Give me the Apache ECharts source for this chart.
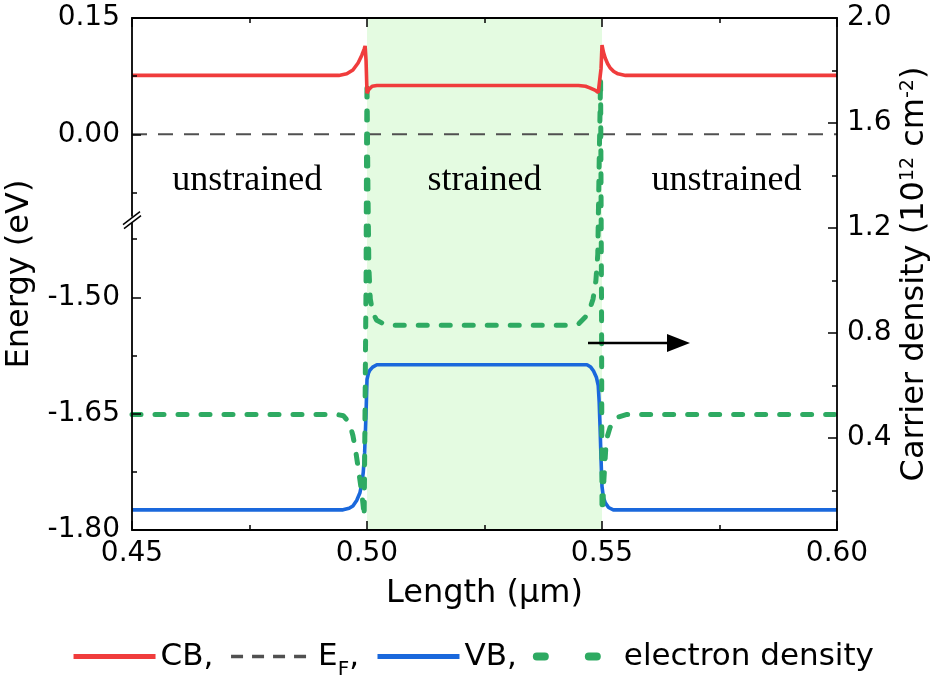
<!DOCTYPE html>
<html>
<head>
<meta charset="utf-8">
<script src="https://cdn.jsdelivr.net/npm/echarts@6.0.0/dist/echarts.min.js"></script>
<style>
  html, body { margin: 0; padding: 0; background: #fff; }
  #chart { width: 945px; height: 677px; }
</style>
</head>
<body>
<div id="chart"></div>
<script>
// values (x in um)
var cbX = [0.45, 0.494, 0.4957, 0.4970, 0.4981, 0.4989, 0.4994, 0.4996, 0.4998, 0.5000,
  0.5004, 0.5011, 0.5021, 0.5450, 0.5465, 0.5474, 0.5485, 0.5492, 0.5496, 0.5498,
  0.5500, 0.5503, 0.5507, 0.5512, 0.5517, 0.5525, 0.5534, 0.5550, 0.60];
var cbY = [0.076, 0.076, 0.078, 0.083, 0.092, 0.102, 0.110, 0.114, 0.095, 0.053,
  0.058, 0.062, 0.063, 0.063, 0.062, 0.060, 0.057, 0.054, 0.054, 0.085,
  0.115, 0.106, 0.098, 0.091, 0.086, 0.081, 0.078, 0.076, 0.076];

var vbX = [0.45, 0.4949, 0.4962, 0.4970, 0.4978, 0.4985, 0.4989, 0.4992, 0.4995, 0.4998,
  0.5000, 0.5003, 0.5006, 0.5012, 0.5021, 0.5468, 0.5476, 0.5482, 0.5488, 0.5492,
  0.5494, 0.5496, 0.5498, 0.5500, 0.5503, 0.5507, 0.5514, 0.5524, 0.60];
var vbY = [-1.774, -1.774, -1.772, -1.769, -1.762, -1.752, -1.740, -1.726, -1.700, -1.649,
  -1.606, -1.598, -1.594, -1.590, -1.587, -1.587, -1.590, -1.595, -1.603, -1.614,
  -1.635, -1.670, -1.710, -1.744, -1.758, -1.765, -1.771, -1.774, -1.774];

var efX = [0.45, 0.60];
var efY = [0, 0];

var nX = [0.45, 0.4936, 0.4950, 0.4957, 0.4964, 0.4970, 0.4976, 0.4981, 0.4985, 0.4989,
  0.4992, 0.4994, 0.4996, 0.4998, 0.4999, 0.5000, 0.5002, 0.5004, 0.5007, 0.5012,
  0.5020, 0.5035, 0.5045, 0.5432, 0.5450, 0.5464, 0.5472, 0.5481, 0.5487, 0.5491,
  0.5494, 0.5497, 0.5499, 0.5500, 0.5502, 0.5504, 0.5508, 0.5512, 0.5517, 0.5525,
  0.5534, 0.5553, 0.60];
var nY = [0.49, 0.49, 0.485, 0.47, 0.45, 0.41, 0.35, 0.29, 0.24, 0.19,
  0.14, 0.10, 0.10, 1.00, 1.50, 1.76, 1.35, 1.05, 0.93, 0.88,
  0.85, 0.835, 0.83, 0.83, 0.835, 0.86, 0.88, 0.93, 1.00, 1.10,
  1.45, 1.77, 0.90, 0.12, 0.15, 0.24, 0.36, 0.41, 0.44, 0.465,
  0.48, 0.49, 0.49];

var strainedRange = [0.50, 0.55];
var energyBreak = [-1.40, -0.11];
var energyLabels = [-1.80, -1.65, -1.50, 0.00, 0.15];
var energyMinor = [-1.725, -1.575, -1.425, -0.075, 0.075];
var densityLabels = [0.4, 0.8, 1.2, 1.6, 2.0];
var densityMinor = [0.2, 0.6, 1.0, 1.4, 1.8];
var regionNames = ['unstrained', 'strained', 'unstrained'];

function pairs(xs, ys) {
  return xs.map(function (x, i) { return [x, ys[i]]; });
}

var SANS = '"DejaVu Sans", sans-serif';
var SERIF = '"Liberation Serif", "Times New Roman", serif';
var AXC = '#000';
var RED = '#f03c3c', BLUE = '#1a68dc', GREEN = '#2eaa62', GREY = '#505050';

var chart = echarts.init(document.getElementById('chart'));

var tickBase = { show: true, inside: true, length: 9, lineStyle: { color: AXC, width: 1.5 } };
var minorBase = { show: true, splitNumber: 2, length: 5, lineStyle: { color: AXC, width: 1.5 } };
var lineBase = { show: true, onZero: false, lineStyle: { color: AXC, width: 1.8 } };
var energyBreaks = [{ start: energyBreak[0], end: energyBreak[1], gap: 0 }];

var option = {
  animation: false,
  backgroundColor: '#fff',
  grid: { left: 132, right: 108, top: 18, bottom: 147, containLabel: false, outerBoundsMode: 'none' },
  legend: {
    data: [
      { name: 'CB', lineStyle: { width: 5 } },
      { name: 'EF', lineStyle: { width: 3.5, type: [12, 9] } },
      { name: 'VB', lineStyle: { width: 5 } },
      { name: 'electron density', lineStyle: { width: 8, type: [8, 44], cap: 'round' } }
    ],
    left: 'center',
    top: 636,
    itemWidth: 82,
    itemHeight: 14,
    itemGap: 16,
    itemStyle: { opacity: 0 },
    formatter: function (name) {
      if (name === 'EF') return 'E{sub|F},';
      if (name === 'electron density') return name;
      return name + ',';
    },
    textStyle: {
      fontFamily: SANS, fontSize: 31, color: '#000',
      rich: { sub: { fontFamily: SANS, fontSize: 20, verticalAlign: 'bottom', lineHeight: 46 } }
    }
  },
  xAxis: [{
    type: 'value', position: 'bottom', min: 0.45, max: 0.60, interval: 0.05,
    z: 10,
    axisLine: lineBase, axisTick: tickBase, minorTick: minorBase,
    splitLine: { show: false },
    axisLabel: { margin: 10, fontFamily: SANS, fontSize: 28, color: '#000',
      formatter: function (v) { return v.toFixed(2); } },
    name: 'Length (\u00b5m)', nameLocation: 'middle', nameGap: 48,
    nameTextStyle: { fontFamily: SANS, fontSize: 32, color: '#000' }
  }, {
    type: 'value', position: 'top', min: 0.45, max: 0.60, interval: 0.05,
    z: 10,
    axisLine: lineBase, axisTick: tickBase, minorTick: minorBase,
    splitLine: { show: false }, axisLabel: { show: false }
  }],
  yAxis: [{
    type: 'value', position: 'left', min: -1.80, max: 0.15,
    z: 10,
    breaks: energyBreaks,
    breakArea: { show: false, expandOnClick: false },
    breakLabelLayout: { moveOverlap: false },
    axisLine: lineBase,
    axisTick: { show: true, inside: true, length: 9, customValues: energyLabels,
      lineStyle: { color: AXC, width: 1.5 } },
    splitLine: { show: false },
    axisLabel: { margin: 12, fontFamily: SANS, fontSize: 28, color: '#000',
      customValues: energyLabels, hideOverlap: false,
      formatter: function (v) { return v.toFixed(2); } },
    name: 'Energy (eV)', nameLocation: 'middle', nameGap: 96, nameMoveOverlap: false,
    nameTextStyle: { fontFamily: SANS, fontSize: 32, color: '#000' }
  }, {
    type: 'value', position: 'right', min: 0.05, max: 2.0,
    z: 10,
    axisLine: lineBase,
    axisTick: { show: true, inside: true, length: 9, customValues: densityLabels,
      lineStyle: { color: AXC, width: 1.5 } },
    splitLine: { show: false },
    axisLabel: { margin: 10, fontFamily: SANS, fontSize: 28, color: '#000',
      customValues: densityLabels,
      formatter: function (v) { return v.toFixed(1); } },
    name: 'Carrier density (10{sup|12} cm{sup|-2})', nameLocation: 'middle', nameGap: 62,
    nameMoveOverlap: false,
    nameTextStyle: { fontFamily: SANS, fontSize: 32, color: '#000',
      rich: { sup: { fontFamily: SANS, fontSize: 19, verticalAlign: 'top' } } }
  }, {
    type: 'value', position: 'right', min: 0.05, max: 2.0,
    z: 10,
    axisLine: { show: false },
    axisTick: { show: true, inside: true, length: 5, customValues: densityMinor,
      lineStyle: { color: AXC, width: 1.5 } },
    splitLine: { show: false },
    axisLabel: { show: false }
  }, {
    type: 'value', position: 'left', min: -1.80, max: 0.15,
    z: 10,
    breaks: energyBreaks,
    breakArea: { show: false, expandOnClick: false },
    axisLine: { show: false },
    axisTick: { show: true, inside: true, length: 5, customValues: energyMinor,
      lineStyle: { color: AXC, width: 1.5 } },
    splitLine: { show: false },
    axisLabel: { show: false }
  }],
  series: [{
    name: 'shade', type: 'line', data: [], z: 1, silent: true,
    markArea: {
      silent: true,
      itemStyle: { color: '#e4fbe1' },
      data: [[{ xAxis: strainedRange[0] }, { xAxis: strainedRange[1] }]]
    }
  }, {
    name: 'EF', type: 'line', xAxisIndex: 0, yAxisIndex: 0, z: 2,
    data: pairs(efX, efY), showSymbol: false, symbol: 'none',
    itemStyle: { color: GREY },
    lineStyle: { color: GREY, width: 2, type: [15, 11] }
  }, {
    name: 'VB', type: 'line', xAxisIndex: 0, yAxisIndex: 0, z: 3,
    data: pairs(vbX, vbY), showSymbol: false, symbol: 'none',
    itemStyle: { color: BLUE },
    lineStyle: { color: BLUE, width: 3.6 }
  }, {
    name: 'electron density', type: 'line', xAxisIndex: 0, yAxisIndex: 1, z: 4,
    data: pairs(nX, nY), showSymbol: false, symbol: 'none',
    itemStyle: { color: GREEN },
    lineStyle: { color: GREEN, width: 5, type: [9, 14], cap: 'round' }
  }, {
    name: 'CB', type: 'line', xAxisIndex: 0, yAxisIndex: 0, z: 5,
    data: pairs(cbX, cbY), showSymbol: false, symbol: 'none',
    itemStyle: { color: RED },
    lineStyle: { color: RED, width: 3.6 }
  }]
};

chart.setOption(option);

// region labels, arrow and the break mark on the energy axis
var yb = chart.convertToPixel({ yAxisIndex: 0 }, energyBreak[1]);
var xl = chart.convertToPixel({ xAxisIndex: 0 }, 0.45);
var regionX = [0.4745, 0.525, 0.5765].map(function (v) {
  return chart.convertToPixel({ xAxisIndex: 0 }, v);
});
var labelY = 181;

var g = regionNames.map(function (t, i) {
  return {
    type: 'text', z: 20, x: regionX[i], y: labelY,
    style: { text: t, font: '36px ' + SERIF, fill: '#000',
      textAlign: 'center', textVerticalAlign: 'middle', align: 'center', verticalAlign: 'middle' }
  };
});
g.push({ type: 'line', z: 20, shape: { x1: 588, y1: 343, x2: 672, y2: 343 },
  style: { stroke: '#000', lineWidth: 2.5 } });
g.push({ type: 'polygon', z: 20, shape: { points: [[667, 334], [690, 343], [667, 352]] },
  style: { fill: '#000' } });
g.push({ type: 'rect', z: 30, shape: { x: xl - 4, y: yb - 3, width: 8, height: 6 },
  style: { fill: '#fff' } });
g.push({ type: 'line', z: 31, shape: { x1: xl - 9, y1: yb + 5, x2: xl + 8, y2: yb - 8 },
  style: { stroke: '#000', lineWidth: 1.5 } });
g.push({ type: 'line', z: 31, shape: { x1: xl - 8, y1: yb + 9, x2: xl + 9, y2: yb - 4 },
  style: { stroke: '#000', lineWidth: 1.5 } });

chart.setOption({ graphic: g });
</script>
</body>
</html>
